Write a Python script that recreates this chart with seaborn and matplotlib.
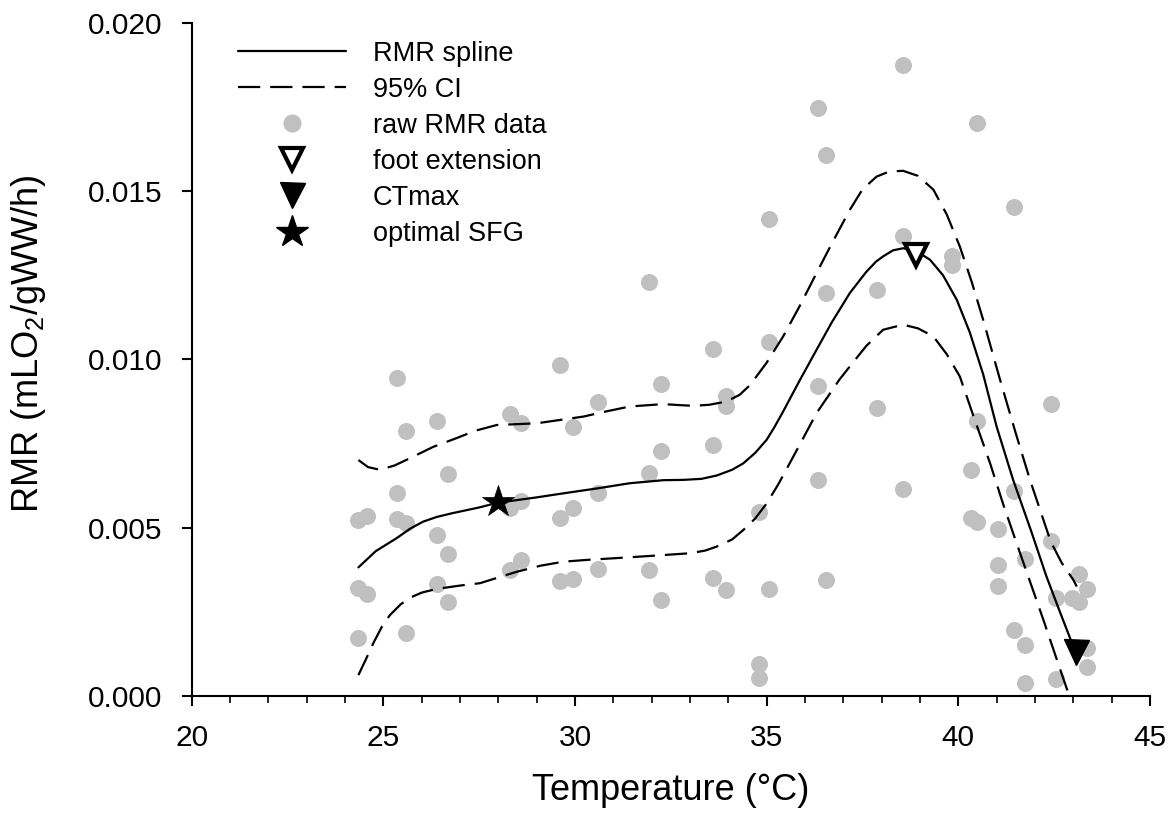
import matplotlib
matplotlib.use("Agg")
import matplotlib.pyplot as plt
from matplotlib.lines import Line2D
from matplotlib.ticker import MultipleLocator, FormatStrFormatter
import pandas as pd
import seaborn as sns

# raw RMR measurements (temperature, RMR)
raw_temp = [24.35, 24.58, 24.35, 24.58, 24.35, 25.35, 25.35, 25.35, 25.59, 25.59, 25.59,
            26.41, 26.41, 26.41, 26.70, 26.70, 26.70, 28.30, 28.30, 28.30, 28.58, 28.58, 28.58,
            29.62, 29.62, 29.62, 29.94, 29.94, 29.94, 30.61, 30.61, 30.61, 31.94, 31.94, 31.94,
            32.24, 32.24, 32.24, 33.61, 33.61, 33.61, 33.95, 33.95, 33.95, 34.79, 34.79, 34.79,
            35.07, 35.07, 35.07, 36.35, 36.35, 36.35, 36.56, 36.56, 36.56, 37.89, 37.89,
            38.56, 38.56, 38.56, 39.84, 39.84, 40.33, 40.33, 40.48, 40.48, 40.48,
            41.04, 41.04, 41.04, 41.45, 41.45, 41.45, 41.75, 41.75, 41.75, 42.41, 42.41,
            42.55, 42.55, 42.96, 43.16, 43.16, 43.35, 43.35, 43.35]
raw_rmr = [0.00523, 0.00535, 0.00320, 0.00304, 0.00173, 0.00945, 0.00602, 0.00526, 0.00788, 0.00515, 0.00188,
           0.00817, 0.00478, 0.00333, 0.00658, 0.00423, 0.00280, 0.00837, 0.00558, 0.00374, 0.00810, 0.00580, 0.00404,
           0.00984, 0.00530, 0.00342, 0.00800, 0.00557, 0.00348, 0.00872, 0.00603, 0.00377, 0.01229, 0.00662, 0.00375,
           0.00927, 0.00728, 0.00286, 0.01030, 0.00745, 0.00350, 0.00892, 0.00862, 0.00314, 0.00547, 0.00096, 0.00053,
           0.01418, 0.01053, 0.00319, 0.01746, 0.00922, 0.00642, 0.01607, 0.01197, 0.00345, 0.01207, 0.00856,
           0.01873, 0.01367, 0.00614, 0.01306, 0.01279, 0.00672, 0.00528, 0.01702, 0.00817, 0.00518,
           0.00495, 0.00389, 0.00327, 0.01453, 0.00609, 0.00196, 0.00407, 0.00152, 0.00040, 0.00867, 0.00459,
           0.00292, 0.00050, 0.00290, 0.00362, 0.00278, 0.00319, 0.00142, 0.00085]

# fitted spline
spline_temp = [24.35, 24.8, 25.35, 25.7, 26.04, 26.4, 26.8, 27.5, 27.98, 29.0, 29.7, 30.6, 31.43, 32.3,
               32.83, 33.3, 33.7, 34.1, 34.39, 34.7, 35.0, 35.2, 35.43, 35.87, 36.3, 36.7, 37.17, 37.6,
               37.85, 38.04, 38.3, 38.56, 38.9, 39.26, 39.6, 39.96, 40.3, 40.65, 41.0, 41.43, 41.9,
               42.3, 42.65, 43.0, 43.06]
spline_rmr = [0.00382, 0.00430, 0.00469, 0.00497, 0.00518, 0.00532, 0.00543, 0.00560, 0.00574, 0.00590,
              0.00602, 0.00617, 0.00632, 0.00641, 0.00642, 0.00645, 0.00655, 0.00672, 0.00691, 0.00722,
              0.00761, 0.00798, 0.00845, 0.00939, 0.01028, 0.01110, 0.01197, 0.01260, 0.01290, 0.01306,
              0.01324, 0.01330, 0.01322, 0.01296, 0.01250, 0.01177, 0.01080, 0.00955, 0.00800, 0.00642,
              0.00490, 0.00355, 0.00250, 0.00147, 0.00130]

# 95% confidence band
upper_temp = [24.35, 24.6, 24.91, 25.3, 25.78, 26.3, 26.91, 27.4, 27.96, 29.0, 30.22, 30.8, 31.43,
              32.3, 32.74, 33.09, 33.5, 33.96, 34.3, 34.57, 35.0, 35.43, 35.87, 36.3, 36.75, 37.17,
              37.5, 37.87, 38.2, 38.56, 38.95, 39.35, 39.7, 40.04, 40.35, 40.65, 41.09, 41.5, 41.87,
              42.2, 42.41, 42.7, 43.0, 43.09]
upper_rmr = [0.00701, 0.00680, 0.00672, 0.00685, 0.00711, 0.00740, 0.00766, 0.00788, 0.00805, 0.00810,
             0.00830, 0.00845, 0.00860, 0.00867, 0.00864, 0.00862, 0.00865, 0.00875, 0.00895, 0.00924,
             0.00990, 0.01068, 0.01160, 0.01256, 0.01355, 0.01444, 0.01505, 0.01543, 0.01558, 0.01560,
             0.01545, 0.01504, 0.01430, 0.01335, 0.01230, 0.01117, 0.00939, 0.00780, 0.00642, 0.00530,
             0.00459, 0.00395, 0.00345, 0.00325]
lower_temp = [24.35, 24.55, 24.74, 24.95, 25.17, 25.45, 25.7, 26.0, 26.39, 27.0, 27.52, 28.0, 28.48,
              29.1, 29.7, 30.4, 31.0, 31.96, 32.74, 33.0, 33.4, 33.7, 34.1, 34.39, 34.7, 35.0, 35.3,
              35.6, 35.95, 36.3, 36.6, 36.9, 37.17, 37.6, 38.04, 38.56, 38.95, 39.35, 39.7, 40.04,
              40.4, 40.83, 41.17, 41.52, 41.87, 42.22, 42.55, 42.88]
lower_rmr = [0.00062, 0.00110, 0.00157, 0.00203, 0.00240, 0.00272, 0.00292, 0.00307, 0.00318, 0.00328,
             0.00335, 0.00352, 0.00369, 0.00387, 0.00399, 0.00405, 0.00409, 0.00416, 0.00422, 0.00424,
             0.00432, 0.00444, 0.00465, 0.00493, 0.00527, 0.00572, 0.00628, 0.00691, 0.00765, 0.00840,
             0.00890, 0.00940, 0.00979, 0.01040, 0.01088, 0.01103, 0.01092, 0.01068, 0.01015, 0.00949,
             0.00830, 0.00691, 0.00570, 0.00454, 0.00340, 0.00226, 0.00115, 0.00005]

# key points
foot_ext = (38.9, 0.0131)
ct_max = (43.06, 0.0013)
optimal_sfg = (28.0, 0.00575)

labels = ["RMR spline", "95% CI", "raw RMR data", "foot extension", "CTmax", "optimal SFG"]


def main():
    sns.set_style("ticks")
    plt.rcParams['font.family'] = ['Liberation Sans', 'DejaVu Sans']
    plt.rcParams['mathtext.fontset'] = 'custom'
    plt.rcParams['mathtext.rm'] = 'Liberation Sans'
    plt.rcParams['text.color'] = 'black'
    plt.rcParams['axes.labelcolor'] = 'black'

    raw = pd.DataFrame({"temp": raw_temp, "rmr": raw_rmr})
    spline = pd.DataFrame({"temp": spline_temp, "rmr": spline_rmr})
    upper = pd.DataFrame({"temp": upper_temp, "rmr": upper_rmr})
    lower = pd.DataFrame({"temp": lower_temp, "rmr": lower_rmr})

    fig = plt.figure(figsize=(11.75, 8.26), dpi=100)
    ax = fig.add_axes([0.1631, 0.1574, 0.8156, 0.8151])

    gray = "#c0c0c0"
    dash = (0, (10, 4.5))
    sns.scatterplot(data=raw, x="temp", y="rmr", color=gray, s=150, linewidth=0, ax=ax, zorder=1)
    sns.lineplot(data=spline, x="temp", y="rmr", color="black", lw=1.6, sort=False, estimator=None, ax=ax, zorder=2)
    sns.lineplot(data=upper, x="temp", y="rmr", color="black", lw=1.6, linestyle=dash, sort=False,
                 estimator=None, ax=ax, zorder=2)
    sns.lineplot(data=lower, x="temp", y="rmr", color="black", lw=1.6, linestyle=dash, sort=False,
                 estimator=None, ax=ax, zorder=2)

    ax.plot(*foot_ext, marker="v", ms=16, mfc="white", mec="black", mew=3, ls="none", zorder=4)
    ax.plot(*ct_max, marker="v", ms=18, mfc="black", mec="black", mew=1, ls="none", zorder=4)
    ax.plot(*optimal_sfg, marker="*", ms=24, mfc="black", mec="black", mew=0.5, ls="none", zorder=4)

    ax.set_xlim(20, 45)
    ax.set_ylim(0, 0.020)
    ax.xaxis.set_major_locator(MultipleLocator(5))
    ax.xaxis.set_minor_locator(MultipleLocator(1))
    ax.yaxis.set_major_locator(MultipleLocator(0.005))
    ax.yaxis.set_major_formatter(FormatStrFormatter('%.3f'))
    sns.despine(ax=ax)
    for side in ["left", "bottom"]:
        ax.spines[side].set_linewidth(1.5)
        ax.spines[side].set_color("black")
    ax.tick_params(axis="both", which="major", direction="out", length=7, width=1.5,
                   labelsize=21.5, color="black", labelcolor="black")
    ax.tick_params(axis="x", which="major", pad=13)
    ax.tick_params(axis="y", which="major", pad=14)
    ax.tick_params(axis="x", which="minor", direction="out", length=5, width=1.2, color="black")

    ax.set_xlabel("Temperature (°C)", fontsize=26)
    ax.set_ylabel(r"RMR (mLO$_\mathregular{2}$/gWW/h)", fontsize=26)
    ax.xaxis.set_label_coords(0.5, -0.115)
    ax.yaxis.set_label_coords(-0.150, 0.523)

    handles = [
        Line2D([], [], color="black", lw=1.6),
        Line2D([], [], color="black", lw=1.6, linestyle=dash),
        Line2D([], [], color=gray, marker="o", ms=12, ls="none"),
        Line2D([], [], color="black", marker="v", ms=16, mfc="white", mew=3, ls="none"),
        Line2D([], [], color="black", marker="v", ms=18, mfc="black", mew=1, ls="none"),
        Line2D([], [], color="black", marker="*", ms=24, ls="none"),
    ]
    ax.legend(handles, labels, loc="upper left", bbox_to_anchor=(0.048, 0.973), frameon=False,
              fontsize=19.5, handlelength=4.0, handletextpad=1.0, labelspacing=0.37,
              borderpad=0, borderaxespad=0)

    plt.savefig("out.png", dpi=100)


if __name__ == "__main__":
    main()
